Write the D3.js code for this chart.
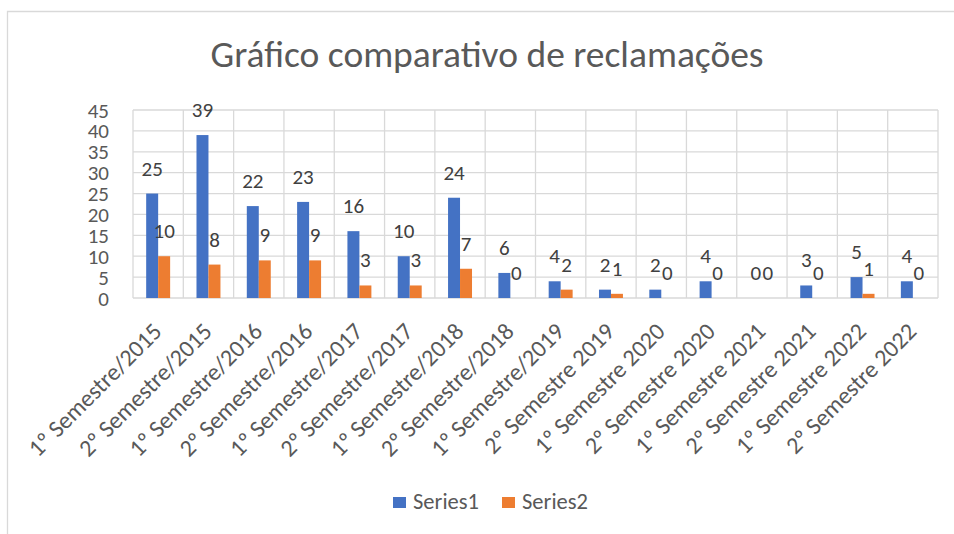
<!DOCTYPE html>
<html>
<head>
<meta charset="utf-8">
<script src="https://cdn.jsdelivr.net/npm/d3@7"></script>
<style>
  body { margin: 0; background: #fff; }
  svg { display: block; }
</style>
</head>
<body>
<div id="chart"></div>
<script>
// chart data
let categories = [
  '1º Semestre/2015', '2º Semestre/2015', '1º Semestre/2016', '2º Semestre/2016',
  '1º Semestre/2017', '2º Semestre/2017', '1º Semestre/2018', '2º Semestre/2018',
  '1º Semestre/2019', '2º Semestre 2019', '1º Semestre 2020', '2º Semestre 2020',
  '1º Semestre 2021', '2º Semestre 2021', '1º Semestre 2022', '2º Semestre 2022'
];
let seriesNames = ['Series1', 'Series2'];
let series1 = [25, 39, 22, 23, 16, 10, 24, 6, 4, 2, 2, 4, 0, 3, 5, 4];
let series2 = [10, 8, 9, 9, 3, 3, 7, 0, 2, 1, 0, 0, 0, 0, 1, 0];
let yTicks = [0, 5, 10, 15, 20, 25, 30, 35, 40, 45];
let title = 'Gráfico comparativo de reclamações';

let width = 954;
let height = 534;
let margin = { top: 110, right: 16, bottom: 236, left: 133 };
let colors = ['#4472C4', '#ED7D31'];
let gridColor = '#D9D9D9';
let fontFamily = 'Carlito, Calibri, Lato, sans-serif';

let svg = d3.select('#chart')
  .append('svg')
  .attr('width', width)
  .attr('height', height);

// outer frame of the chart (only top and left edges are visible)
svg.append('path')
  .attr('d', `M7.5,${height} V11.5 H${width}`)
  .attr('fill', 'none')
  .attr('stroke', gridColor)
  .attr('stroke-width', 1.3);

// title
svg.append('text')
  .attr('x', 487)
  .attr('y', 67)
  .attr('text-anchor', 'middle')
  .style('font-family', fontFamily)
  .style('font-size', '37.5px')
  .style('fill', '#595959')
  .text(title);

let x = d3.scaleBand()
  .domain(categories)
  .range([margin.left, width - margin.right]);

let x1 = d3.scaleBand()
  .domain(seriesNames)
  .range([0, x.bandwidth()])
  .paddingInner(0)
  .paddingOuter(1.1);

let y = d3.scaleLinear()
  .domain([0, 45])
  .range([height - margin.bottom, margin.top]);

// horizontal gridlines
svg.append('g')
  .selectAll('line')
  .data(yTicks)
  .enter()
  .append('line')
  .attr('x1', margin.left)
  .attr('x2', width - margin.right)
  .attr('y1', d => y(d))
  .attr('y2', d => y(d))
  .attr('stroke', gridColor)
  .attr('stroke-width', 1.3);

// vertical gridlines at category boundaries
let boundaries = categories.map(c => x(c)).concat([x.range()[1]]);
svg.append('g')
  .selectAll('line')
  .data(boundaries)
  .enter()
  .append('line')
  .attr('x1', d => d)
  .attr('x2', d => d)
  .attr('y1', y(45))
  .attr('y2', y(0))
  .attr('stroke', gridColor)
  .attr('stroke-width', 1.3);

// y tick labels
svg.append('g')
  .selectAll('text')
  .data(yTicks)
  .enter()
  .append('text')
  .attr('x', margin.left - 24)
  .attr('y', d => y(d) + 7.5)
  .attr('text-anchor', 'end')
  .style('font-family', fontFamily)
  .style('font-size', '21px')
  .style('fill', '#595959')
  .text(d => d);

// bars
let rows = categories.map((c, i) => ({ category: c, values: [series1[i], series2[i]] }));

let groups = svg.append('g')
  .selectAll('g')
  .data(rows)
  .enter()
  .append('g')
  .attr('transform', d => `translate(${x(d.category)},0)`);

groups.selectAll('rect')
  .data(d => d.values.map((v, j) => ({ name: seriesNames[j], value: v, j })))
  .enter()
  .append('rect')
  .attr('x', d => x1(d.name))
  .attr('width', x1.bandwidth())
  .attr('y', d => y(d.value))
  .attr('height', d => y(0) - y(d.value))
  .attr('fill', d => colors[d.j]);

// data labels, sitting a bit above the bar top
groups.selectAll('text')
  .data(d => d.values.map((v, j) => ({ name: seriesNames[j], value: v })))
  .enter()
  .append('text')
  .attr('x', d => x1(d.name) + x1.bandwidth() / 2)
  .attr('y', d => y(d.value) - 18)
  .attr('text-anchor', 'middle')
  .style('font-family', fontFamily)
  .style('font-size', '21px')
  .style('fill', '#404040')
  .text(d => d.value);

// rotated category labels
svg.append('g')
  .selectAll('text')
  .data(categories)
  .enter()
  .append('text')
  .attr('transform', d => `translate(${x(d) + x.bandwidth() / 2 + 5},333) rotate(-45)`)
  .attr('text-anchor', 'end')
  .style('font-family', fontFamily)
  .style('font-size', '24px')
  .style('fill', '#595959')
  .text(d => d);

// legend
let legend = svg.append('g')
  .attr('transform', 'translate(393,497)');

let legendItems = legend.selectAll('g')
  .data(seriesNames)
  .enter()
  .append('g')
  .attr('transform', (d, i) => `translate(${i * 109},0)`);

legendItems.append('rect')
  .attr('width', 13)
  .attr('height', 11)
  .attr('fill', (d, i) => colors[i]);

legendItems.append('text')
  .attr('x', 20)
  .attr('y', 11.5)
  .style('font-family', fontFamily)
  .style('font-size', '22.5px')
  .style('fill', '#595959')
  .text(d => d);
</script>
</body>
</html>
